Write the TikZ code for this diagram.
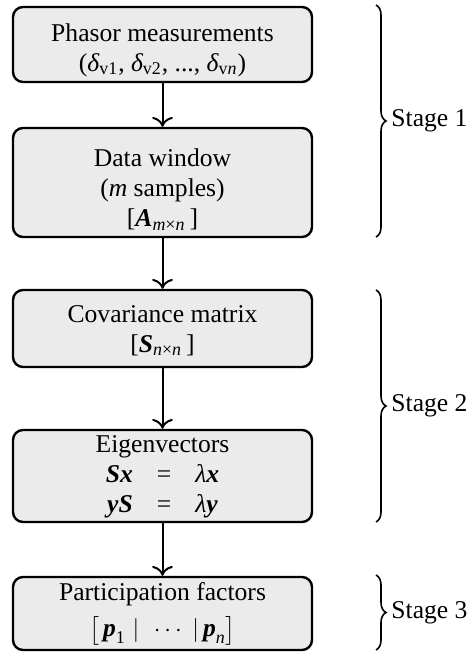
\documentclass[tikz,border=0pt]{standalone}
\usepackage{amsmath}
\usepackage{fontspec}
\setmainfont{Liberation Serif}
\usetikzlibrary{decorations.pathreplacing,arrows.meta}

% bold italic vector/matrix symbols
\newcommand{\bvec}[1]{\textbf{\textit{#1}}}

\begin{document}
\begin{tikzpicture}[x=0.5pt,y=-0.5pt,
  stepbox/.style={draw, line width=1.2pt, rounded corners=5pt, fill=black!8,
    minimum width=149.5pt, inner sep=0pt},
  steptext/.style={align=center, inner sep=0pt,
    font=\fontsize{12.8}{15}\selectfont},
  flow/.style={-{To[scale=1.3]}, line width=1pt},
  stagebrace/.style={decorate, decoration={brace, amplitude=5pt}, line width=0.8pt},
  stagelabel/.style={anchor=west, inner sep=0pt, font=\fontsize{12.8}{15}\selectfont}]
\useasboundingbox (0,0) rectangle (471,652);

% processing steps: frames
\node[stepbox, minimum height=37.5pt] (pm) at (162.5,44.5) {};
\node[stepbox, minimum height=54.5pt] (dw) at (162.5,182.5) {};
\node[stepbox, minimum height=38.5pt] (cv) at (162.5,328.5) {};
\node[stepbox, minimum height=46pt]   (ev) at (162.5,476) {};
\node[stepbox, minimum height=36.5pt] (pf) at (162.5,613.5) {};

% processing steps: contents
\node[steptext] (pmt) at (162.5,50)
  {Phasor measurements\\($\textit{δ}_{\text{v1}}$, $\textit{δ}_{\text{v2}}$, ..., $\textit{δ}_{\text{v\textit{n}}}$)};
\node[steptext] (dwt) at (162.5,189.5)
  {Data window\\(\textit{m} samples)\\{[}$\bvec{A}_{\text{\textit{m}×\textit{n}}}\,${]}};
\node[steptext] (cvt) at (162.5,330.5)
  {Covariance matrix\\{[}$\bvec{S}_{\text{\textit{n}×\textit{n}}}\,${]}};
\node[steptext] (evt) at (162.5,477)
  {Eigenvectors\\\bvec{Sx}\hspace{12pt}=\hspace{12pt}\textit{λ}\bvec{x}\\\bvec{yS}\hspace{12pt}=\hspace{12pt}\textit{λ}\bvec{y}};
\node[steptext] (pft) at (162.5,614)
  {Participation factors\\[3pt]$\big[\,\bvec{p}_{\text{1}}\;|\;\,\cdots\;|\,\bvec{p}_{\textit{n}}\big]$};

% connectors
\draw[flow] (pm) -- (dw);
\draw[flow] (dw) -- (cv);
\draw[flow] (cv) -- (ev);
\draw[flow] (ev) -- (pf);

% stage braces
\coordinate (b1t) at (376,5);
\coordinate (b1b) at (376,237);
\coordinate (b2t) at (376,290);
\coordinate (b2b) at (376,522);
\coordinate (b3t) at (376,575);
\coordinate (b3b) at (376,650);
\draw[stagebrace] (b1t) -- (b1b);
\draw[stagebrace] (b2t) -- (b2b);
\draw[stagebrace] (b3t) -- (b3b);
\node[stagelabel] (s1) at (391,121) {Stage 1};
\node[stagelabel] (s2) at (391,406) {Stage 2};
\node[stagelabel] (s3) at (391,613) {Stage 3};
\end{tikzpicture}
\end{document}
